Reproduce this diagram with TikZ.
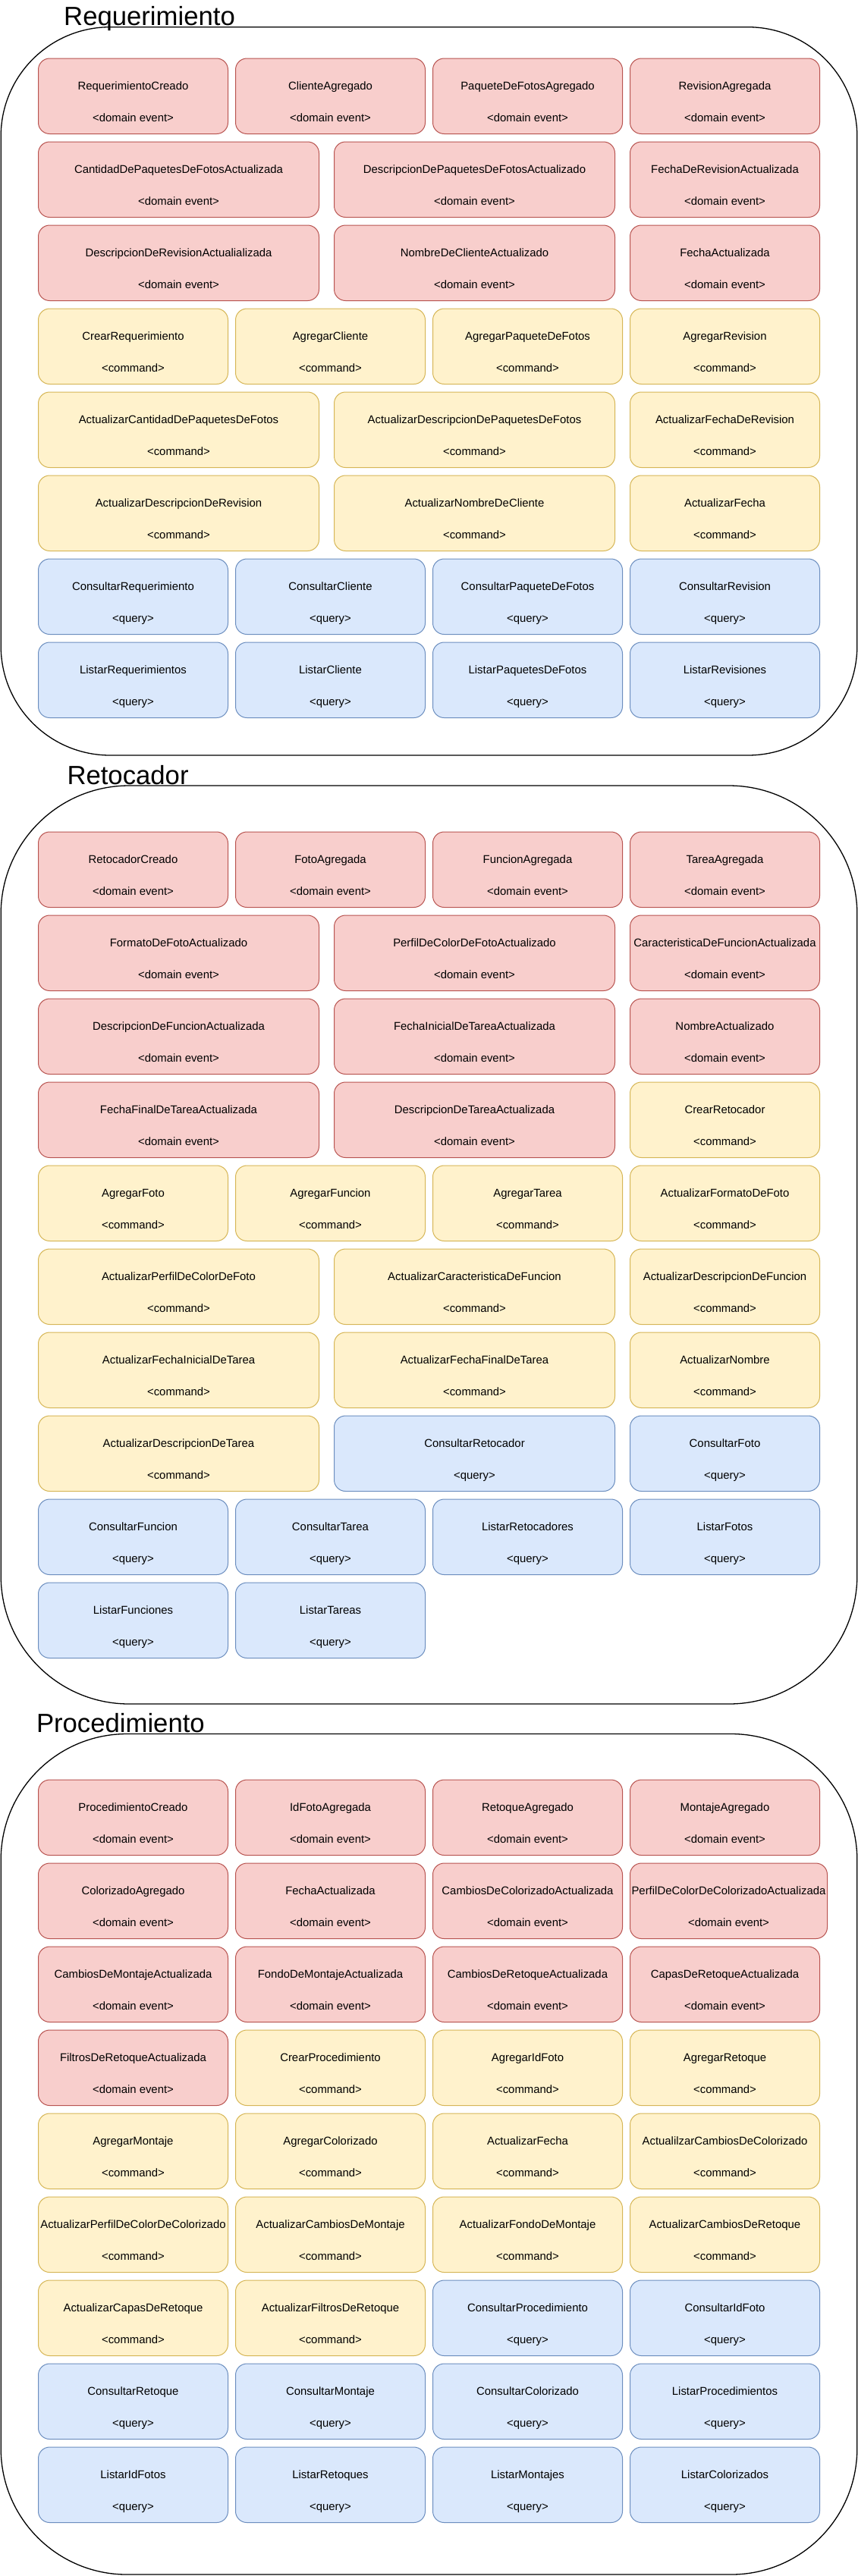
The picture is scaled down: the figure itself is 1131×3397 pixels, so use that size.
\documentclass[tikz,border=0pt]{standalone}
\usepackage{fontspec}
\setmainfont{Liberation Sans}
\definecolor{evfill}{HTML}{F8CECC}
\definecolor{evdraw}{HTML}{B85450}
\definecolor{cmfill}{HTML}{FFF2CC}
\definecolor{cmdraw}{HTML}{D6B656}
\definecolor{qrfill}{HTML}{DAE8FC}
\definecolor{qrdraw}{HTML}{6C8EBF}
\tikzset{
  box/.style={rectangle, rounded corners=15pt, line width=1pt, minimum height=99.5pt,
    inner sep=0pt, outer sep=0pt, anchor=north west},
  evt/.style={box, fill=evfill, draw=evdraw},
  cmd/.style={box, fill=cmfill, draw=cmdraw},
  qry/.style={box, fill=qrfill, draw=qrdraw},
  lbl/.style={anchor=base, inner sep=0pt, font=\fontsize{14.9}{17}\selectfont, text=black},
  frame/.style={rectangle, draw=black, line width=1.3pt, inner sep=0pt, outer sep=0pt, anchor=north west},
  ttl/.style={anchor=base west, inner sep=0pt, font=\fontsize{34.7}{40}\selectfont, text=black},
}
\newcommand\mkbx[7]{%
  \node[#1, minimum width=#5pt] (#2) at (#3,-#4) {};
  \node[lbl] at ([yshift=-41.5pt]#2.north) {#6};
  \node[lbl] at ([yshift=-83.5pt]#2.north) {#7};}
\newcommand\mkev[5]{\mkbx{evt}{#1}{#2}{#3}{#4}{#5}{<domain event>}}
\newcommand\mkcm[5]{\mkbx{cmd}{#1}{#2}{#3}{#4}{#5}{<command>}}
\newcommand\mkqr[5]{\mkbx{qry}{#1}{#2}{#3}{#4}{#5}{<query>}}
\begin{document}
\begin{tikzpicture}[x=1pt,y=1pt]
\useasboundingbox (0,0) rectangle (1131,-3397);
\fill[white] (0,0) rectangle (1131,-3397);

% containers
\node[frame, rounded corners=144pt, minimum width=1128.6pt, minimum height=960.3pt] (req) at (1.2,-35.7) {};
\node[frame, rounded corners=169pt, minimum width=1128.6pt, minimum height=1211pt] (ret) at (1.2,-1036) {};
\node[frame, rounded corners=166pt, minimum width=1128.6pt, minimum height=1108.5pt] (proc) at (1.2,-2286.5) {};

% titles
\node[ttl] (treq) at (84,-33.3) {Requerimiento};
\node[ttl] (tret) at (88.3,-1034) {Retocador};
\node[ttl] (tproc) at (47.8,-2284) {Procedimiento};

% ---------- Requerimiento ----------
\mkev{q11}{50.5}{77}{250}{RequerimientoCreado}
\mkev{q12}{310.5}{77}{250}{ClienteAgregado}
\mkev{q13}{570.5}{77}{250}{PaqueteDeFotosAgregado}
\mkev{q14}{830.5}{77}{250}{RevisionAgregada}
\mkev{q21}{50.5}{187}{370}{CantidadDePaquetesDeFotosActualizada}
\mkev{q22}{440.5}{187}{370}{DescripcionDePaquetesDeFotosActualizado}
\mkev{q23}{830.5}{187}{250}{FechaDeRevisionActualizada}
\mkev{q31}{50.5}{297}{370}{DescripcionDeRevisionActualializada}
\mkev{q32}{440.5}{297}{370}{NombreDeClienteActualizado}
\mkev{q33}{830.5}{297}{250}{FechaActualizada}
\mkcm{q41}{50.5}{407}{250}{CrearRequerimiento}
\mkcm{q42}{310.5}{407}{250}{AgregarCliente}
\mkcm{q43}{570.5}{407}{250}{AgregarPaqueteDeFotos}
\mkcm{q44}{830.5}{407}{250}{AgregarRevision}
\mkcm{q51}{50.5}{517}{370}{ActualizarCantidadDePaquetesDeFotos}
\mkcm{q52}{440.5}{517}{370}{ActualizarDescripcionDePaquetesDeFotos}
\mkcm{q53}{830.5}{517}{250}{ActualizarFechaDeRevision}
\mkcm{q61}{50.5}{627}{370}{ActualizarDescripcionDeRevision}
\mkcm{q62}{440.5}{627}{370}{ActualizarNombreDeCliente}
\mkcm{q63}{830.5}{627}{250}{ActualizarFecha}
\mkqr{q71}{50.5}{737}{250}{ConsultarRequerimiento}
\mkqr{q72}{310.5}{737}{250}{ConsultarCliente}
\mkqr{q73}{570.5}{737}{250}{ConsultarPaqueteDeFotos}
\mkqr{q74}{830.5}{737}{250}{ConsultarRevision}
\mkqr{q81}{50.5}{847}{250}{ListarRequerimientos}
\mkqr{q82}{310.5}{847}{250}{ListarCliente}
\mkqr{q83}{570.5}{847}{250}{ListarPaquetesDeFotos}
\mkqr{q84}{830.5}{847}{250}{ListarRevisiones}

% ---------- Retocador ----------
\mkev{t11}{50.5}{1097}{250}{RetocadorCreado}
\mkev{t12}{310.5}{1097}{250}{FotoAgregada}
\mkev{t13}{570.5}{1097}{250}{FuncionAgregada}
\mkev{t14}{830.5}{1097}{250}{TareaAgregada}
\mkev{t21}{50.5}{1207}{370}{FormatoDeFotoActualizado}
\mkev{t22}{440.5}{1207}{370}{PerfilDeColorDeFotoActualizado}
\mkev{t23}{830.5}{1207}{250}{CaracteristicaDeFuncionActualizada}
\mkev{t31}{50.5}{1317}{370}{DescripcionDeFuncionActualizada}
\mkev{t32}{440.5}{1317}{370}{FechaInicialDeTareaActualizada}
\mkev{t33}{830.5}{1317}{250}{NombreActualizado}
\mkev{t41}{50.5}{1427}{370}{FechaFinalDeTareaActualizada}
\mkev{t42}{440.5}{1427}{370}{DescripcionDeTareaActualizada}
\mkcm{t43}{830.5}{1427}{250}{CrearRetocador}
\mkcm{t51}{50.5}{1537}{250}{AgregarFoto}
\mkcm{t52}{310.5}{1537}{250}{AgregarFuncion}
\mkcm{t53}{570.5}{1537}{250}{AgregarTarea}
\mkcm{t54}{830.5}{1537}{250}{ActualizarFormatoDeFoto}
\mkcm{t61}{50.5}{1647}{370}{ActualizarPerfilDeColorDeFoto}
\mkcm{t62}{440.5}{1647}{370}{ActualizarCaracteristicaDeFuncion}
\mkcm{t63}{830.5}{1647}{250}{ActualizarDescripcionDeFuncion}
\mkcm{t71}{50.5}{1757}{370}{ActualizarFechaInicialDeTarea}
\mkcm{t72}{440.5}{1757}{370}{ActualizarFechaFinalDeTarea}
\mkcm{t73}{830.5}{1757}{250}{ActualizarNombre}
\mkcm{t81}{50.5}{1867}{370}{ActualizarDescripcionDeTarea}
\mkqr{t82}{440.5}{1867}{370}{ConsultarRetocador}
\mkqr{t83}{830.5}{1867}{250}{ConsultarFoto}
\mkqr{t91}{50.5}{1977}{250}{ConsultarFuncion}
\mkqr{t92}{310.5}{1977}{250}{ConsultarTarea}
\mkqr{t93}{570.5}{1977}{250}{ListarRetocadores}
\mkqr{t94}{830.5}{1977}{250}{ListarFotos}
\mkqr{t101}{50.5}{2087}{250}{ListarFunciones}
\mkqr{t102}{310.5}{2087}{250}{ListarTareas}

% ---------- Procedimiento ----------
\mkev{p11}{50.5}{2347}{250}{ProcedimientoCreado}
\mkev{p12}{310.5}{2347}{250}{IdFotoAgregada}
\mkev{p13}{570.5}{2347}{250}{RetoqueAgregado}
\mkev{p14}{830.5}{2347}{250}{MontajeAgregado}
\mkev{p21}{50.5}{2457}{250}{ColorizadoAgregado}
\mkev{p22}{310.5}{2457}{250}{FechaActualizada}
\mkev{p23}{570.5}{2457}{250}{CambiosDeColorizadoActualizada}
\mkev{p24}{830.5}{2457}{260}{PerfilDeColorDeColorizadoActualizada}
\mkev{p31}{50.5}{2567}{250}{CambiosDeMontajeActualizada}
\mkev{p32}{310.5}{2567}{250}{FondoDeMontajeActualizada}
\mkev{p33}{570.5}{2567}{250}{CambiosDeRetoqueActualizada}
\mkev{p34}{830.5}{2567}{250}{CapasDeRetoqueActualizada}
\mkev{p41}{50.5}{2677}{250}{FiltrosDeRetoqueActualizada}
\mkcm{p42}{310.5}{2677}{250}{CrearProcedimiento}
\mkcm{p43}{570.5}{2677}{250}{AgregarIdFoto}
\mkcm{p44}{830.5}{2677}{250}{AgregarRetoque}
\mkcm{p51}{50.5}{2787}{250}{AgregarMontaje}
\mkcm{p52}{310.5}{2787}{250}{AgregarColorizado}
\mkcm{p53}{570.5}{2787}{250}{ActualizarFecha}
\mkcm{p54}{830.5}{2787}{250}{ActualilzarCambiosDeColorizado}
\mkcm{p61}{50.5}{2897}{250}{ActualizarPerfilDeColorDeColorizado}
\mkcm{p62}{310.5}{2897}{250}{ActualizarCambiosDeMontaje}
\mkcm{p63}{570.5}{2897}{250}{ActualizarFondoDeMontaje}
\mkcm{p64}{830.5}{2897}{250}{ActualizarCambiosDeRetoque}
\mkcm{p71}{50.5}{3007}{250}{ActualizarCapasDeRetoque}
\mkcm{p72}{310.5}{3007}{250}{ActualizarFiltrosDeRetoque}
\mkqr{p73}{570.5}{3007}{250}{ConsultarProcedimiento}
\mkqr{p74}{830.5}{3007}{250}{ConsultarIdFoto}
\mkqr{p81}{50.5}{3117}{250}{ConsultarRetoque}
\mkqr{p82}{310.5}{3117}{250}{ConsultarMontaje}
\mkqr{p83}{570.5}{3117}{250}{ConsultarColorizado}
\mkqr{p84}{830.5}{3117}{250}{ListarProcedimientos}
\mkqr{p91}{50.5}{3227}{250}{ListarIdFotos}
\mkqr{p92}{310.5}{3227}{250}{ListarRetoques}
\mkqr{p93}{570.5}{3227}{250}{ListarMontajes}
\mkqr{p94}{830.5}{3227}{250}{ListarColorizados}
\end{tikzpicture}
\end{document}
